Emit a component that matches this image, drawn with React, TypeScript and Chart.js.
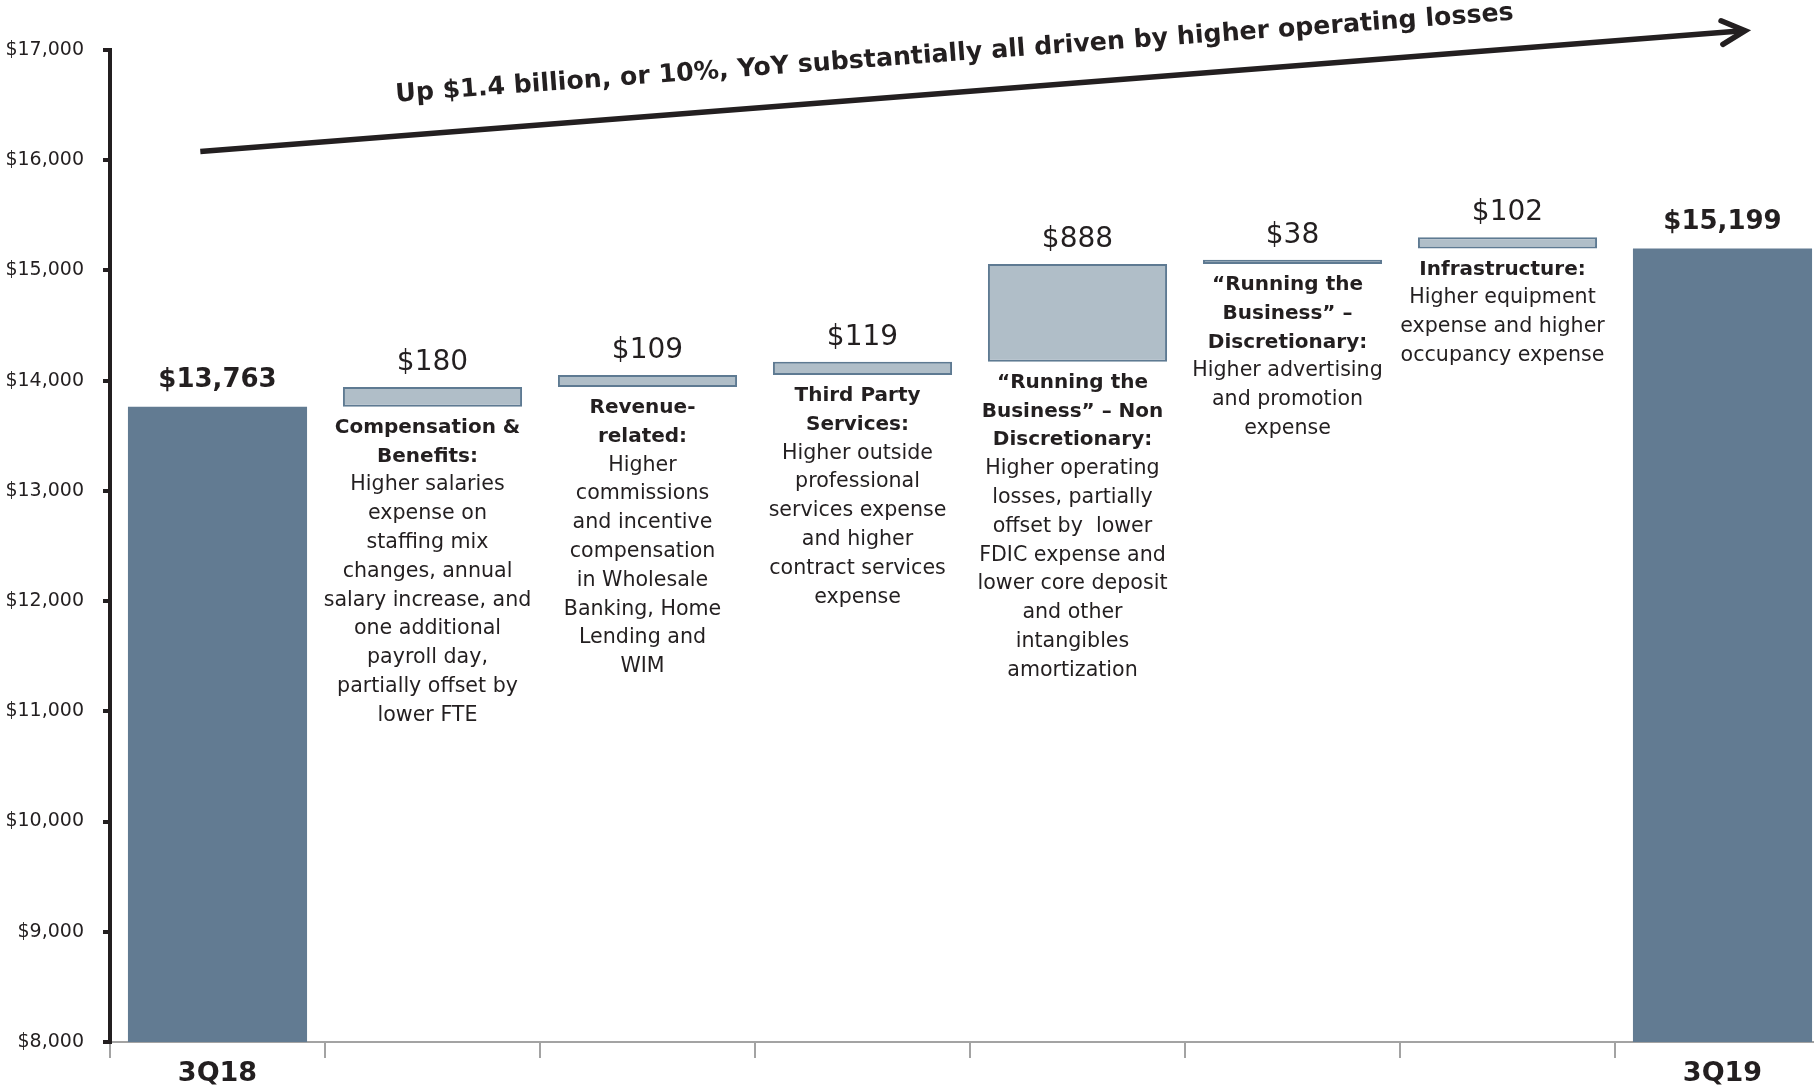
import React, { useEffect, useRef } from "react";
import { Chart, registerables } from "chart.js";

Chart.register(...registerables);

// ---------- data ----------
const categories = [
  "3Q18",
  "Compensation & Benefits",
  "Revenue-related",
  "Third Party Services",
  "“Running the Business” – Non Discretionary",
  "“Running the Business” – Discretionary",
  "Infrastructure",
  "3Q19",
];
const xTickLabels = ["3Q18", "", "", "", "", "", "", "3Q19"];
const startTotal = 13763;
const endTotal = 15199;
const changeValues = [180, 109, 119, 888, 38, 102];
const changeBases = [13763, 13943, 14052, 14171, 15059, 15199];
const yMin = 8000;
const yMax = 17000;
const yStep = 1000;

const descHeads = [
  ["Compensation &", "Benefits:"],
  ["Revenue-", "related:"],
  ["Third Party", "Services:"],
  ["“Running the", "Business” – Non", "Discretionary:"],
  ["“Running the", "Business” –", "Discretionary:"],
  ["Infrastructure:"],
];
const descBodies = [
  ["Higher salaries", "expense on", "staffing mix", "changes, annual", "salary increase, and", "one additional", "payroll day,", "partially offset by", "lower FTE"],
  ["Higher", "commissions", "and incentive", "compensation", "in Wholesale", "Banking, Home", "Lending and", "WIM"],
  ["Higher outside", "professional", "services expense", "and higher", "contract services", "expense"],
  ["Higher operating", "losses, partially", "offset by  lower", "FDIC expense and", "lower core deposit", "and other", "intangibles", "amortization"],
  ["Higher advertising", "and promotion", "expense"],
  ["Higher equipment", "expense and higher", "occupancy expense"],
];
const headline = "Up $1.4 billion, or 10%, YoY substantially all driven by higher operating losses";

// ---------- styles ----------
const FONT = '"DejaVu Sans"';
const TEXT = "#231f20";
const TOTAL_FILL = "#627b92";
const CHANGE_FILL = "#b0bec8";
const CHANGE_BORDER = "#5e7a92";
const AXIS_GRAY = "#a3a3a3";

const fmt = (v: number) => "$" + v.toLocaleString("en-US");

const annotationPlugin = {
  id: "waterfallAnnotations",
  afterDatasetsDraw(chart: any) {
    const { ctx } = chart;
    const xs = chart.scales.x;
    const ys = chart.scales.y;
    const meta = chart.getDatasetMeta(0);
    const last = categories.length - 1;
    ctx.save();
    ctx.fillStyle = TEXT;
    ctx.textAlign = "center";
    ctx.textBaseline = "alphabetic";

    meta.data.forEach((bar: any, i: number) => {
      const p = bar.getProps(["x", "y", "base"], true);
      const top = Math.min(p.y, p.base);
      const bottom = Math.max(p.y, p.base);
      if (i === 0 || i === last) {
        ctx.font = `bold 26px ${FONT}`;
        ctx.fillText(fmt(i === 0 ? startTotal : endTotal), p.x, top - 20);
      } else {
        const k = i - 1;
        ctx.font = `28px ${FONT}`;
        ctx.fillText(fmt(changeValues[k]), p.x, top - 17);
        const cx = p.x - 5;
        let yy = bottom + 26;
        const lh = 28.8;
        ctx.font = `bold 20px ${FONT}`;
        for (const line of descHeads[k]) {
          ctx.fillText(line, cx, yy);
          yy += lh;
        }
        ctx.font = `20.6px ${FONT}`;
        for (const line of descBodies[k]) {
          ctx.fillText(line, cx, yy);
          yy += lh;
        }
      }
    });

    // headline, rotated
    const tx = xs.getPixelForValue(0.83);
    const ty = ys.getPixelForValue(16530);
    ctx.save();
    ctx.translate(tx, ty);
    ctx.rotate((-4.2 * Math.PI) / 180);
    ctx.textAlign = "left";
    ctx.font = `bold 25.3px ${FONT}`;
    ctx.fillText(headline, 0, 0);
    ctx.restore();

    // arrow
    const x0 = xs.getPixelForValue(-0.08);
    const y0 = ys.getPixelForValue(16080);
    const x1 = xs.getPixelForValue(7.105);
    const y1 = ys.getPixelForValue(17175);
    ctx.strokeStyle = TEXT;
    ctx.lineWidth = 5.5;
    ctx.lineCap = "butt";
    ctx.beginPath();
    ctx.moveTo(x0, y0);
    ctx.lineTo(x1 - 2, y1);
    ctx.stroke();
    const ang = Math.atan2(y1 - y0, x1 - x0);
    const armLen = 26;
    const spread = (27 * Math.PI) / 180;
    ctx.lineCap = "round";
    ctx.lineJoin = "miter";
    ctx.beginPath();
    ctx.moveTo(x1 - armLen * Math.cos(ang - spread), y1 - armLen * Math.sin(ang - spread));
    ctx.lineTo(x1, y1);
    ctx.lineTo(x1 - armLen * Math.cos(ang + spread), y1 - armLen * Math.sin(ang + spread));
    ctx.stroke();
    ctx.restore();
  },
};

export default function App() {
  const canvasRef = useRef<HTMLCanvasElement | null>(null);

  useEffect(() => {
    document.body.style.overflow = "hidden";
    const canvas = canvasRef.current;
    if (!canvas) return;
    const last = categories.length - 1;
    const data: any[] = [
      startTotal,
      ...changeBases.map((b, i) => [b, b + changeValues[i]]),
      endTotal,
    ];
    const chart = new Chart(canvas, {
      type: "bar",
      data: {
        labels: categories,
        datasets: [
          {
            data,
            backgroundColor: (c: any) => (c.dataIndex === 0 || c.dataIndex === last ? TOTAL_FILL : CHANGE_FILL),
            borderColor: CHANGE_BORDER,
            borderWidth: (c: any) => (c.dataIndex === 0 || c.dataIndex === last ? 0 : 2),
            borderSkipped: false,
            categoryPercentage: 1,
            barPercentage: 0.833,
          } as any,
        ],
      },
      options: {
        responsive: false,
        animation: false,
        devicePixelRatio: 1,
        layout: { padding: { left: 0, right: 14, top: 50, bottom: 0 } },
        plugins: { legend: { display: false }, tooltip: { enabled: false }, title: { display: false } },
        scales: {
          x: {
            type: "category",
            offset: true,
            grid: {
              offset: true,
              drawOnChartArea: false,
              drawTicks: true,
              tickLength: 16,
              tickWidth: 2,
              tickColor: AXIS_GRAY,
              color: AXIS_GRAY,
              lineWidth: 2,
            },
            border: { display: true, color: AXIS_GRAY, width: 2 },
            ticks: {
              autoSkip: false,
              maxRotation: 0,
              padding: 0,
              color: TEXT,
              font: { family: "DejaVu Sans", size: 27, weight: "bold" },
              callback: (_v: any, i: number) => xTickLabels[i],
            },
            afterFit: (s: any) => {
              s.height = 45;
            },
          },
          y: {
            min: yMin,
            max: yMax,
            grid: {
              drawOnChartArea: false,
              drawTicks: true,
              tickLength: 7,
              tickWidth: 4,
              tickColor: TEXT,
              color: TEXT,
              lineWidth: 4,
            },
            border: { display: true, color: TEXT, width: 4 },
            ticks: {
              stepSize: yStep,
              padding: 19,
              color: TEXT,
              font: { family: "DejaVu Sans", size: 19 },
              callback: (v: any) => fmt(Number(v)),
            },
            afterFit: (s: any) => {
              s.width = 110;
            },
          },
        },
      },
      plugins: [annotationPlugin],
    } as any);
    return () => chart.destroy();
  }, []);

  return (
    <div
      style={{
        position: "fixed",
        left: 0,
        top: 0,
        width: 1814,
        height: 1087,
        overflow: "hidden",
        background: "#ffffff",
      }}
    >
      <canvas ref={canvasRef} width={1844} height={1087} style={{ width: 1844, height: 1087, display: "block" }} />
    </div>
  );
}
